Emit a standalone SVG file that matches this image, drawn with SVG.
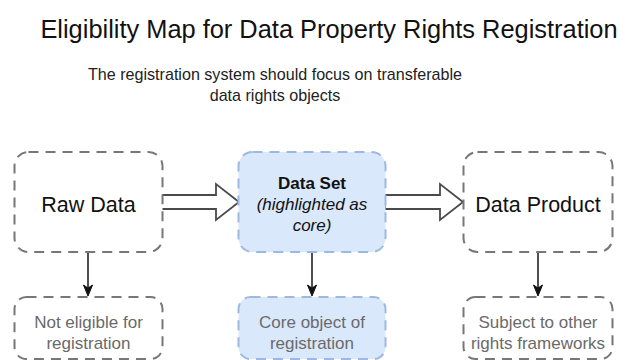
<svg xmlns="http://www.w3.org/2000/svg" width="625" height="360" viewBox="0 0 625 360">
<defs>
<style>
text{font-family:"Liberation Sans",Arial,Helvetica,sans-serif;text-anchor:middle}
.title{font-size:25.4px;fill:#111}
.sub{font-size:16.1px;fill:#222}
.box{fill:#fff;stroke:#777;stroke-width:2;stroke-dasharray:10 7}
.core{fill:#dae8fc;stroke:#9db8e3;stroke-width:2;stroke-dasharray:10 7}
.lbl{font-size:21.5px;fill:#111}
.cl{font-size:17px;fill:#111}
.gl{font-size:17px;fill:#6a6a6a}
.blk{fill:#fff;stroke:#4a4a4a;stroke-width:1.8;stroke-linejoin:miter}
.ln{stroke:#222;stroke-width:1.6;fill:none}
.ah{fill:#111;stroke:#111;stroke-width:1}
</style>
</defs>
<rect width="625" height="360" fill="#fff"/>
<g id="title">
<text class="title" x="329" y="38">Eligibility Map for Data Property Rights Registration</text>
<text class="sub" x="275" y="80">The registration system should focus on transferable</text>
<text class="sub" x="275" y="101">data rights objects</text>
</g>
<g id="connectors">
<path class="blk" d="M161,195 L216,195 L216,184 L239,202 L216,220 L216,209 L161,209 Z"/>
<path class="blk" d="M385,195 L440,195 L440,184 L463,202 L440,220 L440,209 L385,209 Z"/>
<line class="ln" x1="88" y1="253" x2="88" y2="288"/>
<path class="ah" d="M88,296 L83.5,285 L88,288 L92.5,285 Z"/>
<line class="ln" x1="312" y1="253" x2="312" y2="288"/>
<path class="ah" d="M312,296 L307.5,285 L312,288 L316.5,285 Z"/>
<line class="ln" x1="538" y1="253" x2="538" y2="288"/>
<path class="ah" d="M538,296 L533.5,285 L538,288 L542.5,285 Z"/>
</g>
<g id="raw-data">
<rect class="box" x="14.5" y="152" width="148" height="100" rx="14"/>
<text class="lbl" x="88.5" y="212">Raw Data</text>
</g>
<g id="data-set">
<rect class="core" x="238.5" y="152" width="147" height="100" rx="14"/>
<text class="cl" x="312" y="189" font-weight="bold">Data Set</text>
<text class="cl" x="312" y="210" font-style="italic">(highlighted as</text>
<text class="cl" x="312" y="231" font-style="italic">core)</text>
</g>
<g id="data-product">
<rect class="box" x="463.5" y="152" width="149" height="100" rx="14"/>
<text class="lbl" x="538" y="212">Data Product</text>
</g>
<g id="not-eligible">
<rect class="box" x="14.5" y="297" width="148" height="62" rx="12"/>
<text class="gl" x="88.5" y="328">Not eligible for</text>
<text class="gl" x="88.5" y="349">registration</text>
</g>
<g id="core-object">
<rect class="core" x="238.5" y="297" width="147" height="62" rx="12"/>
<text class="gl" x="312" y="328">Core object of</text>
<text class="gl" x="312" y="349">registration</text>
</g>
<g id="other-frameworks">
<rect class="box" x="463.5" y="297" width="149" height="62" rx="12"/>
<text class="gl" x="538" y="328">Subject to other</text>
<text class="gl" x="538" y="349">rights frameworks</text>
</g>
</svg>
